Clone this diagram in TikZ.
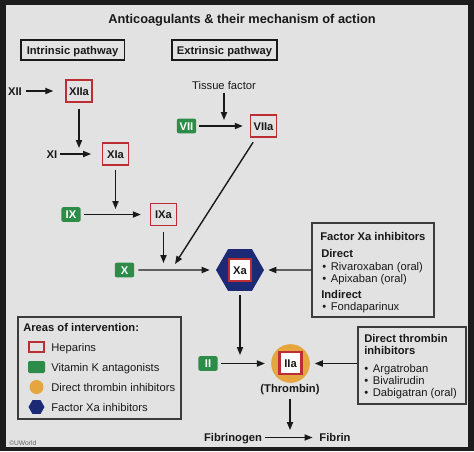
\documentclass[tikz,border=0pt]{standalone}
\usepackage{fontspec}
\setmainfont{Liberation Sans}
\usetikzlibrary{arrows.meta,shapes.geometric}
\definecolor{bg}{RGB}{226,226,226}
\definecolor{framec}{RGB}{28,28,28}
\definecolor{hred}{RGB}{188,45,52}
\definecolor{vkgreen}{RGB}{45,140,72}
\definecolor{dtiorange}{RGB}{230,165,62}
\definecolor{xanavy}{RGB}{28,42,118}
\definecolor{ink}{RGB}{25,25,25}
\newcommand{\fs}{\fontsize{8.4}{10}\selectfont}
\begin{document}
\begin{tikzpicture}[x=0.75pt,y=-0.75pt,
  every node/.style={font=\fs, inner sep=0pt, text=ink, text height=6pt, text depth=0pt},
  arr/.style={-{Triangle[length=6pt,width=4.6pt]}, line width=1.05pt, draw=ink},
  bl/.style={font=\fs\bfseries},
  hep/.style={draw=hred, line width=1.1pt, minimum width=19.5pt, minimum height=16.5pt, font=\fs\bfseries},
  hepw/.style={draw=hred, fill=white, line width=1.7pt, minimum width=17pt, minimum height=16.5pt, font=\fs\bfseries},
  vk/.style={fill=vkgreen, rounded corners=1.5pt, text=white, minimum width=14.5pt, minimum height=11pt, font=\fs\bfseries},
  pbox/.style={draw=ink, line width=1pt, minimum height=15pt, font=\fs\bfseries},
  ibox/.style={draw=ink!85, line width=0.9pt},
  hexa/.style={regular polygon, regular polygon sides=6, fill=xanavy, draw=none},
  lt/.style={anchor=west}
]
\useasboundingbox (0,0) rectangle (474,451);
\fill[framec] (0,0) rectangle (474,451);
\fill[bg] (6,5) rectangle (468,447);

% title and pathway headers
\node[font=\fontsize{9.6}{11}\selectfont\bfseries, text height=6.9pt] (title) at (242,19) {Anticoagulants \& their mechanism of action};
\node[pbox, minimum width=77.5pt] (intr) at (72.5,50) {Intrinsic pathway};
\node[pbox, minimum width=78.75pt] (extr) at (224.5,50) {Extrinsic pathway};

% intrinsic
\node[bl] (xii) at (15,91) {XII};
\node[hep] (xiia) at (79,91) {XIIa};
\node[bl] (xi) at (52,154) {XI};
\node[hep] (xia) at (115.5,154) {XIa};
\node[vk] (ix) at (71,214.5) {IX};
\node[hep] (ixa) at (163.5,214.5) {IXa};
\node[vk] (x) at (124.5,270) {X};

% extrinsic
\node (tf) at (224,85) {Tissue factor};
\node[vk] (vii) at (186.5,126) {VII};
\node[hep] (viia) at (263.5,126) {VIIa};

% Xa
\node[hexa, minimum size=36pt] (xa) at (240,270) {};
\node[hepw, minimum width=17pt, minimum height=17pt] (xasq) at (240,270) {Xa};

% thrombin
\node[vk] (ii) at (208,363.5) {II};
\node[circle, fill=dtiorange, minimum size=29pt] (iia) at (290.5,363.5) {};
\node[hepw, minimum width=16.5pt, minimum height=16pt] (iiasq) at (290.5,363) {IIa};
\node[bl] (thr) at (290,388) {(Thrombin)};
\node[bl] (fbg) at (233,437.5) {Fibrinogen};
\node[bl] (fib) at (335,437.5) {Fibrin};

% factor Xa inhibitors box
\node[ibox, minimum width=91.5pt, minimum height=70.5pt] (fxa) at (373,270) {};
\node[lt, bl] (fxat) at (320,236) {Factor Xa inhibitors};
\node[lt, bl] (fxad) at (321,253.5) {Direct};
\node[lt] (fxa1) at (322,266) {\textbullet\hspace{3.5pt}Rivaroxaban (oral)};
\node[lt] (fxa2) at (322,278) {\textbullet\hspace{3.5pt}Apixaban (oral)};
\node[lt, bl] (fxai) at (321,294) {Indirect};
\node[lt] (fxa3) at (322,306.5) {\textbullet\hspace{3.5pt}Fondaparinux};

% direct thrombin inhibitors box
\node[ibox, minimum width=81pt, minimum height=57.75pt] (dti) at (412,365.5) {};
\node[lt, bl] (dtit1) at (364,338) {Direct thrombin};
\node[lt, bl] (dtit2) at (364,350.5) {inhibitors};
\node[lt] (dti1) at (364,368) {\textbullet\hspace{3.5pt}Argatroban};
\node[lt] (dti2) at (364,380) {\textbullet\hspace{3.5pt}Bivalirudin};
\node[lt] (dti3) at (364,392) {\textbullet\hspace{3.5pt}Dabigatran (oral)};

% legend
\node[ibox, minimum width=122.25pt, minimum height=76.5pt] (leg) at (99.5,368) {};
\node[lt, bl] (legt) at (23,327) {Areas of intervention:};
\node[draw=hred, line width=1.3pt, minimum width=11.5pt, minimum height=7.5pt] (lh) at (36.5,347) {};
\node[fill=vkgreen, rounded corners=1pt, minimum width=12.75pt, minimum height=9pt] (lv) at (36.5,367) {};
\node[circle, fill=dtiorange, minimum size=10.5pt] (lo) at (36.5,387) {};
\node[hexa, minimum size=12pt] (lx) at (36.5,407) {};
\node[lt] (lht) at (51,347) {Heparins};
\node[lt] (lvt) at (51,367) {Vitamin K antagonists};
\node[lt] (lot) at (51,387) {Direct thrombin inhibitors};
\node[lt] (lxt) at (51,407) {Factor Xa inhibitors};

\node[lt, font=\fontsize{5}{6}\selectfont, text=ink!70, text height=3.6pt] (cr) at (9,443) {©UWorld};

% junction points
\coordinate (jxi) at (79,148);
\coordinate (jix) at (115.5,209);
\coordinate (jx1) at (163.5,263);
\coordinate (jx2) at (175,264);
\coordinate (jvii) at (224,120);
\coordinate (jii) at (240,355);
\coordinate (jfb) at (290,430);

% connectors
\draw[arr, shorten <=3pt, shorten >=9pt] (xii) -- (xiia);
\draw[arr, shorten <=4.5pt] (xiia) -- (jxi);
\draw[arr, shorten <=2pt, shorten >=8pt] (xi) -- (xia);
\draw[arr, shorten <=3pt] (xia) -- (jix);
\draw[arr, shorten <=2.5pt, shorten >=6.75pt] (ix) -- (ixa);
\draw[arr, shorten <=4.5pt] (ixa) -- (jx1);
\draw[arr, shorten <=3pt] (tf) -- (jvii);
\draw[arr, shorten <=2.25pt, shorten >=5.25pt] (vii) -- (viia);
\draw[arr, shorten <=4pt] (viia) -- (jx2);
\draw[arr, shorten <=3pt, shorten >=4.5pt] (x) -- (xa);
\draw[arr, shorten >=3pt] (fxa) -- (xa);
\draw[arr, shorten <=3pt] (xa) -- (jii);
\draw[arr, shorten <=2.5pt, shorten >=4.5pt] (ii) -- (iia);
\draw[arr, shorten >=3.5pt] (dti.west |- iia) -- (iia);
\draw[arr, shorten <=5pt] (thr) -- (jfb);
\draw[arr, shorten <=2pt, shorten >=5pt] (fbg) -- (fib);
\end{tikzpicture}
\end{document}
